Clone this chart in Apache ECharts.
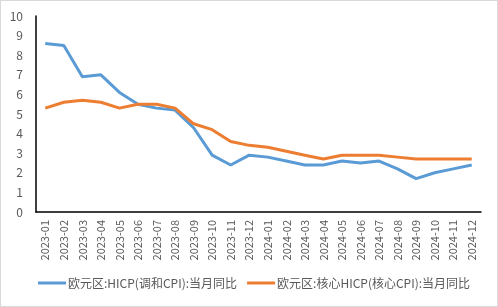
<!DOCTYPE html>
<html><head><meta charset="utf-8">
<script src="https://cdn.jsdelivr.net/npm/echarts@6/dist/echarts.min.js"></script>
<style>html,body{margin:0;padding:0;background:#fff}#c{width:498px;height:307px;box-sizing:border-box;border:1px solid #d9d9d9}</style>
</head><body><div id="c"></div>
<script>
const categories = ['2023-01','2023-02','2023-03','2023-04','2023-05','2023-06','2023-07','2023-08','2023-09','2023-10','2023-11','2023-12','2024-01','2024-02','2024-03','2024-04','2024-05','2024-06','2024-07','2024-08','2024-09','2024-10','2024-11','2024-12'];
const hicp = [8.6,8.5,6.9,7.0,6.1,5.5,5.3,5.2,4.3,2.9,2.4,2.9,2.8,2.6,2.4,2.4,2.6,2.5,2.6,2.2,1.7,2.0,2.2,2.4];
const coreHicp = [5.3,5.6,5.7,5.6,5.3,5.5,5.5,5.3,4.5,4.2,3.6,3.4,3.3,3.1,2.9,2.7,2.9,2.9,2.9,2.8,2.7,2.7,2.7,2.7];
const names = ['欧元区:HICP(调和CPI):当月同比','欧元区:核心HICP(核心CPI):当月同比'];
const chart = echarts.init(document.getElementById('c'));
const font = '"Noto Sans CJK SC", "Noto Sans", sans-serif';
chart.setOption({
  animation:false,
  textStyle:{fontFamily:font},
  grid:{left:35,right:16,top:15,bottom:94},
  legend:{left:32,bottom:12,itemWidth:28,itemHeight:3,itemGap:10,icon:'rect',
    textStyle:{color:'#595959',fontSize:12,fontFamily:font,padding:[0,0,0,-3]},data:names},
  xAxis:{type:'category',data:categories,boundaryGap:true,
    axisLine:{lineStyle:{color:'#000',width:1.5}},axisTick:{show:false},
    axisLabel:{rotate:90,color:'#595959',fontSize:11,margin:8,interval:0}},
  yAxis:{type:'value',min:0,max:10,interval:1,
    axisLine:{show:true,lineStyle:{color:'#000',width:1.5}},splitLine:{show:false},
    axisLabel:{color:'#595959',fontSize:12,margin:13}},
  series:[
    {name:names[0],type:'line',data:hicp,showSymbol:false,symbol:'none',lineStyle:{color:'#5B9BD5',width:3},itemStyle:{color:'#5B9BD5'}},
    {name:names[1],type:'line',data:coreHicp,showSymbol:false,symbol:'none',lineStyle:{color:'#ED7D31',width:3},itemStyle:{color:'#ED7D31'}}
  ]
});
</script></body></html>
